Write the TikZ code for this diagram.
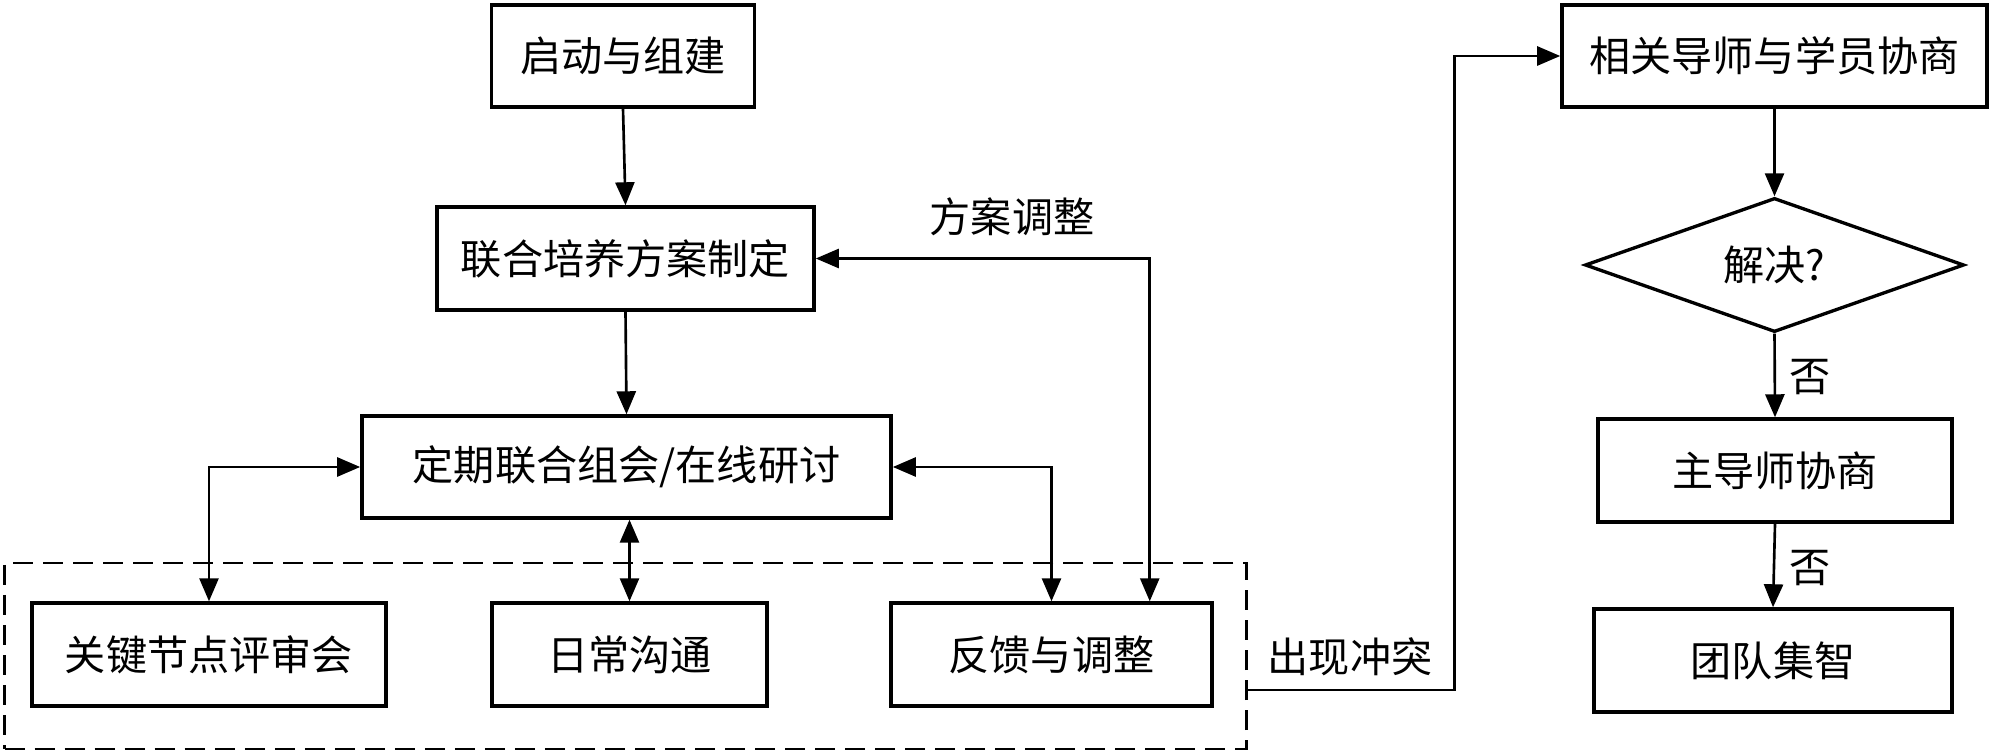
\documentclass[tikz,border=0pt]{standalone}
\usepackage{fontspec}
\newfontfamily\cjk{Noto Sans CJK SC}
\usetikzlibrary{arrows.meta,shapes.geometric}
\begin{document}
\begin{tikzpicture}[x=0.01cm,y=-0.01cm,
  txt/.style={font=\cjk\fontsize{11.7pt}{14pt}\selectfont},
  box/.style={draw,line width=0.95pt,inner sep=0pt,txt},
  lbl/.style={inner sep=0pt,txt},
  tip/.tip={Triangle[length=0.23cm,width=0.19cm]},
  conn/.style={line width=0.75pt,-tip},
  conntwo/.style={line width=0.75pt,tip-tip},
  plainline/.style={line width=0.75pt}]
\useasboundingbox (0,0) rectangle (2000,755);
% dashed group
\node[draw,dash pattern=on 0.2cm off 0.1cm,line width=0.75pt,minimum width=12.41cm,minimum height=1.86cm,inner sep=0pt] (group) at (625.5,656) {};
% left part
\node[box,minimum width=2.63cm,minimum height=1.02cm] (start) at (623,56) {启动与组建};
\node[box,minimum width=3.77cm,minimum height=1.03cm] (plan) at (625.5,258.5) {联合培养方案制定};
\node[box,minimum width=5.29cm,minimum height=1.02cm] (meet) at (626.5,467) {定期联合组会/在线研讨};
\node[box,minimum width=3.54cm,minimum height=1.03cm] (review) at (209,654.5) {关键节点评审会};
\node[box,minimum width=2.75cm,minimum height=1.03cm] (daily) at (629.5,654.5) {日常沟通};
\node[box,minimum width=3.21cm,minimum height=1.03cm] (feedback) at (1051.5,654.5) {反馈与调整};
% right part
\node[box,minimum width=4.25cm,minimum height=1.02cm] (consult) at (1774.5,56) {相关导师与学员协商};
\node[box,diamond,aspect=2.83,minimum width=3.79cm,minimum height=1.34cm] (solve) at (1774.5,265) {解决?};
\node[box,minimum width=3.54cm,minimum height=1.03cm] (mainsup) at (1775,470.5) {主导师协商};
\node[box,minimum width=3.58cm,minimum height=1.03cm] (team) at (1773,660.5) {团队集智};
% labels
\node[lbl] (ladj) at (1012,217) {方案调整};
\node[lbl] (lconf) at (1350,657) {出现冲突};
\node[lbl] (lno1) at (1810,377) {否};
\node[lbl] (lno2) at (1810,568) {否};
% connectors
\draw[conn] (start.south) -- (plan.north);
\draw[conn] (plan.south) -- (meet.north);
\draw[conntwo] (meet.west) -| (review.north);
\draw[conntwo] (meet.south -| daily.north) -- (daily.north);
\draw[conntwo] (meet.east) -| (feedback.north);
\draw[conntwo] (plan.east) -| ([xshift=-0.64cm]feedback.north east);
\draw[conn] ([yshift=-0.34cm]group.east) -- ++(207,0) |- (consult.west);
\draw[conn] (consult.south) -- (solve.north);
\draw[conn] (solve.south) -- (mainsup.north);
\draw[conn] (mainsup.south) -- (team.north);
\end{tikzpicture}
\end{document}
